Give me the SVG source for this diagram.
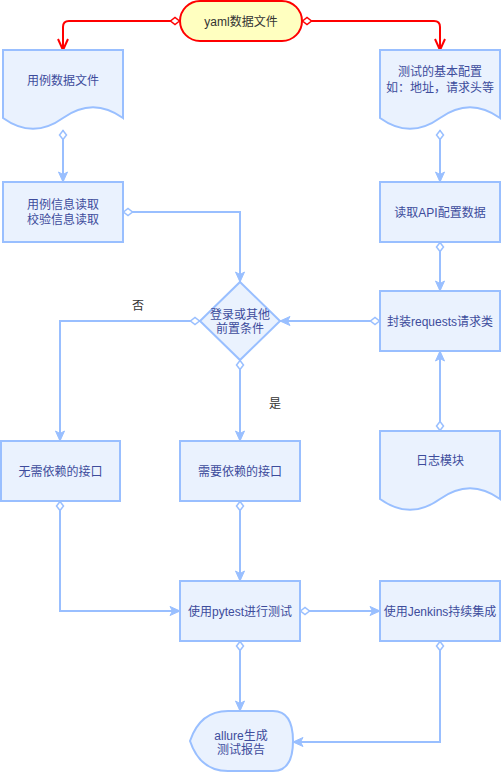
<svg xmlns="http://www.w3.org/2000/svg" width="503" height="773" viewBox="0 0 503 773">
<style>
.n{fill:#eaf2fe;stroke:#99bfff;stroke-width:2}
.t{font-family:"Liberation Sans","Noto Sans CJK SC",sans-serif;font-size:12px;fill:#3d4c9c;text-anchor:middle}
.l{font-family:"Liberation Sans","Noto Sans CJK SC",sans-serif;font-size:12px;fill:#333;text-anchor:middle}
.e{fill:none;stroke:#99bfff;stroke-width:2;marker-start:url(#dB);marker-end:url(#aB)}
.r{fill:none;stroke:#ff0000;stroke-width:2;marker-start:url(#dR);marker-end:url(#aR)}
</style>
<defs>
<marker id="aB" markerUnits="userSpaceOnUse" markerWidth="12" markerHeight="10" refX="10" refY="4.5" orient="auto" overflow="visible"><path d="M0,0 L10,4.5 L0,9 L2.5,4.5 Z" fill="#99bfff" stroke="#99bfff" stroke-width="1"/></marker>
<marker id="dB" markerUnits="userSpaceOnUse" markerWidth="12" markerHeight="10" refX="0" refY="4" orient="auto" overflow="visible"><path d="M0.5,4 L5,0.5 L9.5,4 L5,7.5 Z" fill="#ffffff" stroke="#99bfff" stroke-width="1.5"/></marker>
<marker id="aR" markerUnits="userSpaceOnUse" markerWidth="12" markerHeight="12" refX="11" refY="5" orient="auto" overflow="visible"><path d="M0,0 L11,5 L0,10" fill="none" stroke="#ff0000" stroke-width="2"/></marker>
<marker id="dR" markerUnits="userSpaceOnUse" markerWidth="12" markerHeight="10" refX="0" refY="4" orient="auto" overflow="visible"><path d="M0.5,4 L5,0.5 L9.5,4 L5,7.5 Z" fill="#ffffff" stroke="#ff0000" stroke-width="1.5"/></marker>
</defs>
<g id="connectors">
<path class="r" d="M180,21 L69,21 Q63,21 63,27 L63,50"/>
<path class="r" d="M302,21 L434,21 Q440,21 440,27 L440,50"/>
<path class="e" d="M63,130 L63,182"/>
<path class="e" d="M440,130 L440,182"/>
<path class="e" d="M123,212 L240,212 L240,282"/>
<path class="e" d="M440,242 L440,291"/>
<path class="e" d="M380,321 L280,321"/>
<path class="e" d="M440,431 L440,351"/>
<path class="e" d="M200,321 L60,321 L60,441"/>
<path class="e" d="M240,360 L240,441"/>
<path class="e" d="M60,501 L60,611 L180,611"/>
<path class="e" d="M240,501 L240,581"/>
<path class="e" d="M300,611 L380,611"/>
<path class="e" d="M240,641 L240,711"/>
<path class="e" d="M440,641 L440,742 L293,742"/>
<text class="l" x="138" y="310">否</text>
<text class="l" x="275" y="408">是</text>
</g>
<g id="yaml"><rect x="180" y="1" width="122" height="40" rx="20" ry="20" fill="#ffffc0" stroke="#ff0000" stroke-width="2"/><text class="l" x="241" y="25.5">yaml数据文件</text></g>
<g id="doc1"><path class="n" d="M3,50 L123,50 L123,118 Q93,96.4 63,118 Q33,139.6 3,118 Z"/><text class="t" x="63" y="84.5">用例数据文件</text></g>
<g id="doc2"><path class="n" d="M380,50 L500,50 L500,118 Q470,96.4 440,118 Q410,139.6 380,118 Z"/><text class="t" x="440" y="76">测试的基本配置</text><text class="t" x="440" y="92">如：地址，请求头等</text></g>
<g id="read1"><rect class="n" x="3" y="182" width="120" height="60"/><text class="t" x="63" y="208.5">用例信息读取</text><text class="t" x="63" y="223.5">校验信息读取</text></g>
<g id="read2"><rect class="n" x="380" y="182" width="120" height="60"/><text class="t" x="440" y="216.5">读取API配置数据</text></g>
<g id="decision"><path class="n" d="M240,282 L280,321 L240,360 L200,321 Z"/><text class="t" x="240" y="319">登录或其他</text><text class="t" x="240" y="333">前置条件</text></g>
<g id="wrap"><rect class="n" x="380" y="291" width="120" height="60"/><text class="t" x="440" y="325.5">封装requests请求类</text></g>
<g id="log"><path class="n" d="M380,431 L500,431 L500,499 Q470,477.4 440,499 Q410,520.6 380,499 Z"/><text class="t" x="440" y="464.5">日志模块</text></g>
<g id="nodep"><rect class="n" x="1" y="441" width="119" height="60"/><text class="t" x="60.5" y="475.5">无需依赖的接口</text></g>
<g id="dep"><rect class="n" x="180" y="441" width="120" height="60"/><text class="t" x="240" y="475.5">需要依赖的接口</text></g>
<g id="pytest"><rect class="n" x="180" y="581" width="120" height="60"/><text class="t" x="240" y="615.5">使用pytest进行测试</text></g>
<g id="jenkins"><rect class="n" x="380" y="581" width="120" height="60"/><text class="t" x="440" y="615.5">使用Jenkins持续集成</text></g>
<g id="allure"><path class="n" d="M190,741 Q200,711 228,711 L273,711 Q293,711 293,741 Q293,771 273,771 L228,771 Q200,771 190,741 Z"/><text class="t" x="241" y="740">allure生成</text><text class="t" x="241" y="754">测试报告</text></g>
</svg>
